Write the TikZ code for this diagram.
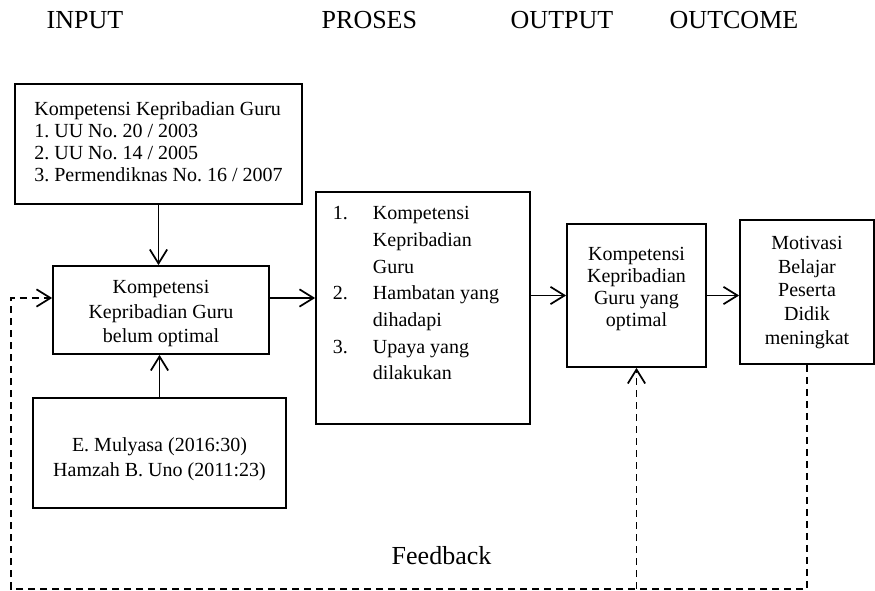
\documentclass[tikz,border=0pt]{standalone}
\usepackage{fontspec}
\setmainfont{Liberation Serif}
\usetikzlibrary{arrows.meta}
\frenchspacing

\begin{document}
\begin{tikzpicture}[x=0.75pt,y=-0.75pt,
  box/.style={draw,line width=1.3pt,inner sep=0pt,font=\fontsize{15}{16.5}\selectfont},
  head/.style={anchor=base west,font=\fontsize{19.5}{23}\selectfont},
  arr/.style={line width=1.3pt,-{Straight Barb[length=10.5pt,width=13pt]}},
  fb/.style={line width=1.3pt,dash pattern=on 5.5pt off 3.5pt}]
\useasboundingbox (0,0) rectangle (875,591);
\node[head] (in) at (42,29) {INPUT};
\node[head] (pr) at (317,29) {PROSES};
\node[head] (out) at (506,29) {OUTPUT};
\node[head] (oc) at (665,29) {OUTCOME};
\node[box,minimum width=215.25pt,minimum height=90pt] (k1) at (158.5,144) {\begin{tabular}{@{}l@{}}Kompetensi Kepribadian Guru\\1. UU No. 20 / 2003\\2. UU No. 14 / 2005\\3. Permendiknas No. 16 / 2007\end{tabular}};
\node[box,minimum width=162pt,minimum height=66pt,font=\fontsize{15}{18.4}\selectfont,text height=55pt] (k2) at (161,310) {\begin{tabular}[b]{@{}c@{}}Kompetensi\\Kepribadian Guru\\belum optimal\end{tabular}};
\node[box,minimum width=189.75pt,minimum height=82.5pt,font=\fontsize{15}{18.75}\selectfont,text height=41.6pt] (tr) at (159.5,453) {\begin{tabular}[b]{@{}c@{}}E. Mulyasa (2016:30)\\Hamzah B. Uno (2011:23)\end{tabular}};
\node[box,minimum width=160.5pt,minimum height=174pt,font=\fontsize{15}{20}\selectfont,text depth=26pt] (ps) at (423,308) {\begin{tabular}[b]{@{}p{30pt}@{}l@{\hspace{10.5pt}}}1. & Kompetensi\\ & Kepribadian\\ & Guru\\2. & Hambatan yang\\ & dihadapi\\3. & Upaya yang\\ & dilakukan\end{tabular}};
\node[box,minimum width=104.25pt,minimum height=107.25pt,text depth=15pt] (k4) at (636.5,295.5) {\begin{tabular}[b]{@{}c@{}}Kompetensi\\Kepribadian\\Guru yang\\optimal\end{tabular}};
\node[box,minimum width=100.5pt,minimum height=108pt,font=\fontsize{15}{17.8}\selectfont] (mo) at (807,292) {\begin{tabular}{@{}c@{}}Motivasi\\Belajar\\Peserta\\Didik\\meningkat\end{tabular}};
\draw[arr] (k1.south) -- (k1.south |- k2.north);
\draw[arr] (tr.north) -- (tr.north |- k2.south);
\draw[arr] ([yshift=9pt]k2.east) -- ([yshift=9pt]k2.east -| ps.west);
\draw[arr] (ps.east |- k4.west) -- (k4.west);
\draw[arr] (k4.east) -- (k4.east -| mo.west);
\coordinate (fbl) at (11,589);
\coordinate (k2in) at ([yshift=9pt]k2.west);
\draw[fb,arr] (mo.south) -- (mo.south |- fbl) -- (fbl) -- (fbl |- k2in) -- (k2in);
\draw[fb,arr] (k4.south |- fbl) -- (k4.south);
\node[head] (fbt) at (387,564) {Feedback};
\end{tikzpicture}
\end{document}
